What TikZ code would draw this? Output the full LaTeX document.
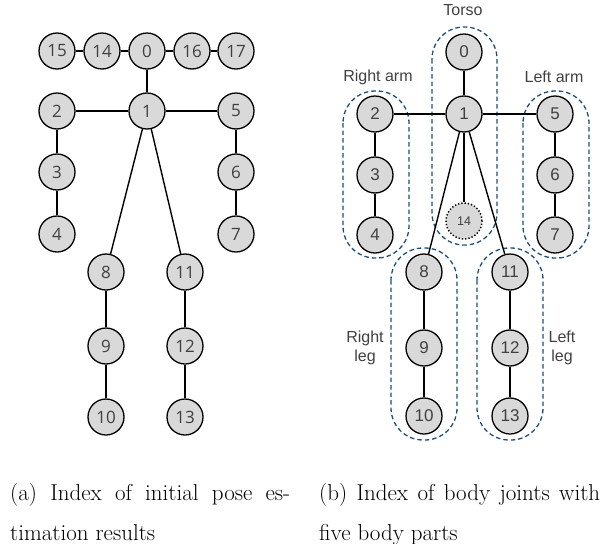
\documentclass[tikz,border=0pt]{standalone}
\usepackage{fontspec}
\newfontfamily\jointfont{Open Sans}
\newfontfamily\labelfont{Liberation Sans}
\definecolor{jointfill}{HTML}{D9D9D9}
\definecolor{jointtext}{HTML}{404040}
\definecolor{partblue}{HTML}{1F4E79}
\begin{document}
\begin{tikzpicture}[x=1pt,y=-1pt,
  joint/.style={circle,draw=black,line width=1.3pt,fill=jointfill,minimum size=36pt,inner sep=0pt,
    text=jointtext,font=\jointfont\fontsize{17}{17}\selectfont},
  jointb/.style={joint,font=\labelfont\fontsize{17}{17}\selectfont},
  hidden/.style={jointb,dotted,line width=1.5pt,font=\labelfont\fontsize{12.5}{12.5}\selectfont},
  bone/.style={line width=1.4pt,black},
  part/.style={draw=partblue,dashed,line width=1.3pt,dash pattern=on 4.5pt off 3pt,rounded corners=32pt},
  partlabel/.style={text=jointtext,font=\labelfont\fontsize{16}{19}\selectfont,align=center},
  caption/.style={anchor=base west,inner sep=0pt,font=\fontsize{23}{28}\selectfont}]
\useasboundingbox (0,0) rectangle (603,544);

% ---- (a) initial pose estimation joints ----
\node[joint] (a15) at (57,51) {15};
\node[joint] (a14) at (102,51) {14};
\node[joint] (a0)  at (147,51) {0};
\node[joint] (a16) at (192,51) {16};
\node[joint] (a17) at (236,51) {17};
\node[joint] (a2)  at (57,111) {2};
\node[joint] (a1)  at (147,111) {1};
\node[joint] (a5)  at (236,111) {5};
\node[joint] (a3)  at (57,172) {3};
\node[joint] (a4)  at (57,234) {4};
\node[joint] (a6)  at (236,172) {6};
\node[joint] (a7)  at (236,234) {7};
\node[joint] (a8)  at (106,272) {8};
\node[joint] (a9)  at (106,346) {9};
\node[joint] (a10) at (106,417) {10};
\node[joint] (a11) at (185,272) {11};
\node[joint] (a12) at (185,346) {12};
\node[joint] (a13) at (185,417) {13};
\foreach \u/\v in {a15/a14,a14/a0,a0/a16,a16/a17,a0/a1,a1/a2,a1/a5,a2/a3,a3/a4,a5/a6,a6/a7,a1/a8,a1/a11,a8/a9,a9/a10,a11/a12,a12/a13}
  \draw[bone] (\u) -- (\v);

% ---- (b) body parts ----
\draw[part] (432,27) rectangle (497,245);
\draw[part] (343,91) rectangle (409,258);
\draw[part] (523,91) rectangle (589,258);
\draw[part] (391,248) rectangle (457,440);
\draw[part] (477,248) rectangle (543,440);

\node[partlabel] (ltorso) at (463,10) {Torso};
\node[partlabel] (lrarm) at (378,77) {Right arm};
\node[partlabel] (llarm) at (554,77) {Left arm};
\node[partlabel] (lrleg) at (365,348) {Right\\leg};
\node[partlabel] (llleg) at (562,348) {Left\\leg};

\node[jointb] (b0)  at (464,52) {0};
\node[jointb] (b1)  at (464,114) {1};
\node[jointb] (b2)  at (375,114) {2};
\node[jointb] (b3)  at (375,175) {3};
\node[jointb] (b4)  at (375,235) {4};
\node[jointb] (b5)  at (555,114) {5};
\node[jointb] (b6)  at (555,175) {6};
\node[jointb] (b7)  at (555,235) {7};
\node[hidden] (b14) at (464,221) {14};
\node[jointb] (b8)  at (424,272) {8};
\node[jointb] (b9)  at (424,348) {9};
\node[jointb] (b10) at (424,416) {10};
\node[jointb] (b11) at (510,272) {11};
\node[jointb] (b12) at (510,348) {12};
\node[jointb] (b13) at (510,416) {13};
\foreach \u/\v in {b0/b1,b1/b2,b1/b5,b2/b3,b3/b4,b5/b6,b6/b7,b1/b14,b1/b8,b1/b11,b8/b9,b9/b10,b11/b12,b12/b13}
  \draw[bone] (\u) -- (\v);

% ---- captions (first lines justified to the column width) ----
\node[caption] (capa1) at (10,500) {\makebox[280pt][s]{(a) Index of initial pose es-}};
\node[caption] (capa2) at (10,540) {timation results};
\node[caption] (capb1) at (319,500) {\makebox[281pt][s]{(b) Index of body joints with}};
\node[caption] (capb2) at (319,540) {five body parts};
\end{tikzpicture}
\end{document}
